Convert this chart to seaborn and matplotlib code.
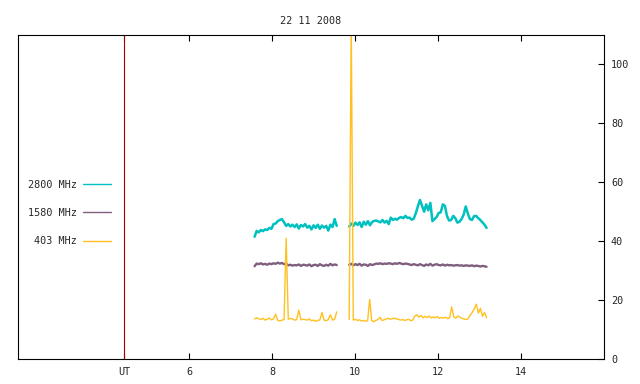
import numpy as np
import pandas as pd
import matplotlib
matplotlib.use("Agg")
import matplotlib.pyplot as plt
from matplotlib.lines import Line2D
import seaborn as sns

# time of day in hours (UT); two observing segments
seg1_start, seg1_end = 7.58, 9.56
seg2_start, seg2_end = 9.86, 13.17

ut_mark = 4.44
title = "22 11 2008"
freqs = ["2800 MHz", "1580 MHz", "403 MHz"]
colors = ["#00c0c0", "#7f5f7f", "#ffc020"]
widths = [1.8, 1.7, 1.0]

f2800_seg1 = [41.5, 43.5, 43.0, 43.8, 43.4, 44.0, 43.8, 44.5, 44.2, 45.8,
              46.0, 46.8, 47.2, 47.5, 46.4, 45.2, 45.8, 45.0, 45.6, 44.8,
              45.7, 44.3, 45.5, 45.0, 45.8, 44.6, 45.2, 44.0, 45.4, 44.5,
              45.6, 44.2, 45.3, 44.6, 45.2, 43.6, 45.6, 44.8, 47.5, 45.2]
f2800_seg2 = [45.0, 46.0, 45.2, 46.3, 45.5, 46.4, 44.8, 46.6, 45.6, 46.8,
              45.4, 46.5, 46.9, 47.0, 46.7, 46.4, 47.2, 46.3, 46.9, 45.8,
              48.0, 47.2, 47.6, 47.3, 47.9, 48.2, 47.8, 48.6, 47.9, 48.0,
              47.3, 47.6, 49.5, 51.8, 54.0, 52.0, 50.0, 52.5, 50.5, 53.0,
              46.8, 47.5, 48.2, 49.6, 49.8, 52.5, 52.0, 48.5, 47.0, 47.2,
              48.6, 47.8, 46.3, 46.6, 47.5, 49.0, 51.8, 49.4, 47.5, 47.2,
              48.5, 48.6, 47.8, 47.2, 46.4, 45.6, 44.5]

f1580_seg1 = [31.5, 32.4, 32.2, 32.5, 32.1, 32.3, 32.0, 32.4, 32.2, 32.5,
              32.3, 32.7, 32.4, 32.6, 32.2, 32.4, 31.8, 32.0, 31.7, 31.9,
              31.8, 32.1, 31.6, 32.0, 31.9, 31.7, 32.1, 31.5, 31.9, 32.0,
              31.6, 32.2, 31.8, 31.6, 32.0, 31.7, 32.3, 31.8, 32.1, 31.9]
f1580_seg2 = [32.0, 32.3, 31.8, 32.2, 31.9, 32.3, 31.7, 32.1, 32.0, 31.6,
              32.2, 31.9, 32.1, 32.4, 32.3, 32.5, 32.2, 32.4, 32.3, 32.5,
              32.4, 32.2, 32.5, 32.3, 32.6, 32.4, 32.2, 32.4, 32.3, 32.1,
              31.9, 32.2, 32.0, 31.8, 32.2, 31.9, 31.6, 32.1, 31.8, 32.3,
              31.7, 32.0, 32.2, 31.9, 31.8, 32.1, 31.7, 32.0, 31.8, 31.9,
              31.7, 31.8, 31.9, 31.7, 31.8, 31.6, 31.8, 31.7, 31.6, 31.8,
              31.5, 31.7, 31.6, 31.4, 31.6, 31.5, 31.3]

f403_seg1 = [13.6, 14.0, 13.7, 13.4, 13.8, 13.2, 13.5, 13.9, 13.3, 13.6,
             15.2, 13.1, 12.9, 13.2, 13.4, 41.0, 13.5, 13.8, 13.6, 13.2,
             13.4, 16.6, 13.3, 13.5, 13.4, 13.2, 13.6, 13.0, 13.2, 12.8,
             13.1, 13.3, 15.8, 13.2, 13.0, 13.4, 15.0, 13.2, 13.5, 16.0]
f403_seg2 = [13.4, 115.0, 13.2, 13.5, 13.1, 13.3, 12.9, 13.1, 12.8, 13.0,
             20.2, 13.0, 12.7, 13.1, 13.4, 14.2, 13.1, 13.3, 13.6, 13.8,
             13.5, 13.7, 13.9, 13.6, 13.5, 13.2, 13.4, 13.1, 13.3, 13.5,
             13.0, 13.2, 14.6, 15.0, 14.2, 14.8, 14.0, 14.5, 14.1, 14.6,
             13.9, 14.3, 14.0, 14.4, 13.8, 14.1, 13.9, 14.2, 13.7, 14.0,
             17.7, 14.3, 13.9, 14.6, 14.2, 13.8, 13.6, 13.4, 13.7, 14.9,
             15.8, 17.0, 18.6, 15.6, 17.2, 14.5, 15.8, 14.0]

series = {
    "2800 MHz": (f2800_seg1, f2800_seg2),
    "1580 MHz": (f1580_seg1, f1580_seg2),
    "403 MHz": (f403_seg1, f403_seg2),
}

rows = []
for name, (s1, s2) in series.items():
    for seg, vals, t0, t1 in [(1, s1, seg1_start, seg1_end), (2, s2, seg2_start, seg2_end)]:
        t = np.linspace(t0, t1, len(vals))
        for ti, v in zip(t, vals):
            rows.append((ti, v, name, f"{name}-{seg}"))
df = pd.DataFrame(rows, columns=["time", "flux", "freq", "seg"])

sns.set_style("white")
plt.rcParams["font.family"] = ["DejaVu Sans Mono"]
fs = 7.3

fig = plt.figure(figsize=(6.4, 3.84), dpi=100)
ax = fig.add_axes([18 / 640, 1 - 359 / 384, 586 / 640, 324 / 384])

ax.axvline(ut_mark, color="#a00000", lw=0.8)
for name, col, lw in zip(freqs, colors, widths):
    sns.lineplot(data=df[df["freq"] == name], x="time", y="flux", units="seg",
                 estimator=None, color=col, lw=lw, legend=False, ax=ax)

ax.set_xlim(1.88, 16.0)
ax.set_ylim(0, 110)
ax.set_xlabel("")
ax.set_ylabel("")
ax.set_title(title, fontsize=fs, pad=8)

ax.set_xticks([ut_mark, 6, 8, 10, 12, 14], labels=["UT", "6", "8", "10", "12", "14"])
ax.set_yticks([0, 20, 40, 60, 80, 100])
ax.yaxis.tick_right()
ax.tick_params(axis="x", direction="in", length=4, width=0.8, top=True, bottom=True,
               labelsize=fs, pad=6, color="black")
ax.tick_params(axis="y", direction="in", length=4, width=0.8, right=True, left=False,
               labelsize=fs, pad=5, color="black")
for sp in ax.spines.values():
    sp.set_color("black")
    sp.set_linewidth(0.8)

# one legend entry per frequency
handles = [Line2D([], [], color=c, lw=1.0) for c in colors]
ax.legend(handles, freqs, frameon=False, markerfirst=False,
          fontsize=fs, loc="center left", bbox_to_anchor=(0.0375, 1 - 213 / 384),
          bbox_transform=fig.transFigure, borderaxespad=0,
          handlelength=2.7, handletextpad=0.6, labelspacing=1.8)

fig.savefig("out.png", dpi=100)
